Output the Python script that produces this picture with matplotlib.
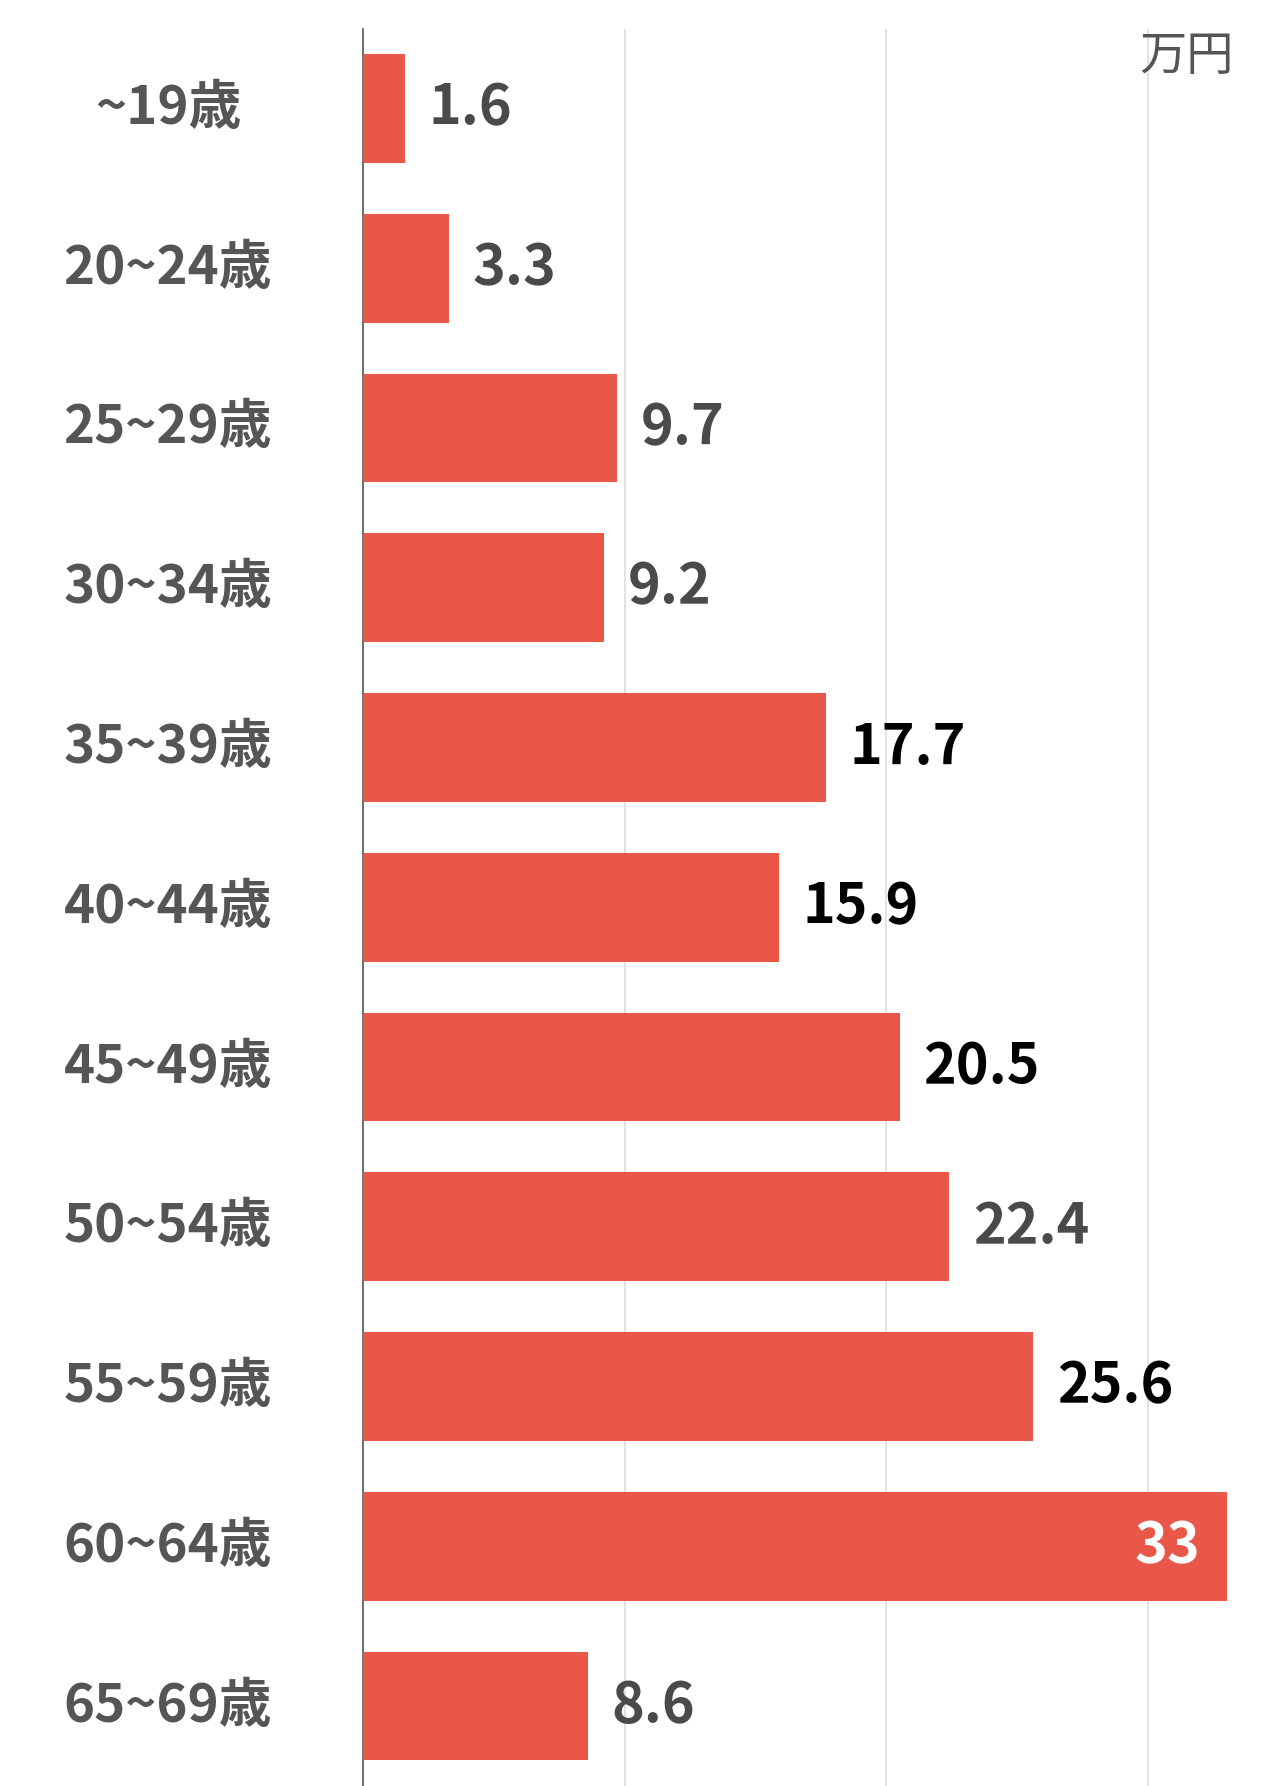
import matplotlib
matplotlib.use("Agg")
import matplotlib.pyplot as plt

categories = ["~19歳", "20~24歳", "25~29歳", "30~34歳", "35~39歳", "40~44歳",
              "45~49歳", "50~54歳", "55~59歳", "60~64歳", "65~69歳"]
values = [1.6, 3.3, 9.7, 9.2, 17.7, 15.9, 20.5, 22.4, 25.6, 33, 8.6]
label_colors = ["#4a4a4a", "#4a4a4a", "#4a4a4a", "#4a4a4a", "#000000", "#000000",
                "#000000", "#4a4a4a", "#000000", "#ffffff", "#4a4a4a"]
value_labels = ["1.6", "3.3", "9.7", "9.2", "17.7", "15.9", "20.5", "22.4", "25.6", "33", "8.6"]

font = "Noto Sans CJK JP"
fig = plt.figure(figsize=(12.62, 17.86), dpi=100)
ax = fig.add_axes([0.2877, 0.0, 0.7123, 0.984])
n = len(categories)
y = list(range(n))
ax.barh(y, values, height=0.68, color="#e85747", zorder=3)
ax.set_ylim(n - 0.5, -0.5)
ax.set_xlim(0, 34.35)
ax.set_xticks([10, 20, 30])
ax.grid(axis="x", color="#dddddd", linewidth=1.2, zorder=0)
ax.tick_params(length=0, labelbottom=False, labelleft=False)
for s in ["top", "right", "bottom"]:
    ax.spines[s].set_visible(False)
ax.spines["left"].set_color("#555555")
ax.spines["left"].set_linewidth(1.2)

for i, (v, t, c) in enumerate(zip(values, value_labels, label_colors)):
    if c == "#ffffff":
        ax.text(v - 1.0, i, t, ha="right", va="center", color=c, fontsize=40,
                fontweight="bold", family=font, zorder=4)
    else:
        ax.text(v + 0.9, i, t, ha="left", va="center", color=c, fontsize=40,
                fontweight="bold", family=font, zorder=4)
    ax.annotate(categories[i], xy=(0, i), xycoords=("figure fraction", "data"),
                xytext=(0.133, 0), textcoords=("figure fraction", "offset points"),
                ha="center", va="center", fontsize=38, fontweight="bold",
                color="#555555", family=font)

fig.text(0.94, 0.968, "万円", ha="center", va="center", fontsize=34,
         color="#555555", family=font)
fig.savefig("out.png", dpi=100)
